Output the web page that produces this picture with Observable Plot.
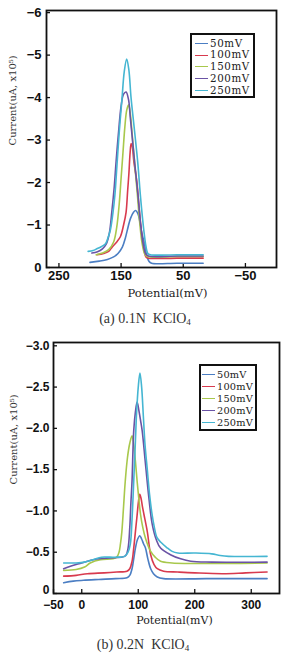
<!DOCTYPE html>
<html>
<head>
<meta charset="utf-8">
<script src="https://cdn.jsdelivr.net/npm/d3@7"></script>
<script src="https://cdn.jsdelivr.net/npm/@observablehq/plot@0.6"></script>
<style>
  html, body { margin: 0; padding: 0; background: #fff; }
  body { width: 281px; height: 653px; position: relative; overflow: hidden; }
  .panel { position: absolute; left: 0; }
  .caption { position: absolute; left: 0; text-align: center; font-family: "Liberation Serif", serif; font-size: 14px; color: #333; white-space: pre; }
  .caption sub { font-size: 9px; vertical-align: -2px; line-height: 0; }
  .legend { position: absolute; border: 2px solid #111; box-sizing: border-box; background: #fff; font-family: "DejaVu Serif", serif; color: #222; }
  .legend .row { display: flex; align-items: center; white-space: nowrap; }
  .legend .swatch { display: inline-block; width: 13px; height: 0; border-top: 1.5px solid; margin-right: 2px; flex: none; }
</style>
</head>
<body>
<div id="panelA" class="panel" style="top:0"></div>
<div id="panelB" class="panel" style="top:330px"></div>
<div class="caption" style="top:311px;width:290px">(a) 0.1N  KClO<sub>4</sub></div>
<div class="caption" style="top:637px;width:286px">(b) 0.2N  KClO<sub>4</sub></div>
<script>
// Scan rates and their line colours
const scanRates = ["50mV", "100mV", "150mV", "200mV", "250mV"];
const colors = ["#4b7ec3", "#d83a4e", "#a8c84c", "#6a53a5", "#45b6d2"];

// (a) 0.1N KClO4 — [potential (mV), current (uA, x10^5)]
const a50 = [[200,-0.12],[185,-0.15],[172,-0.19],[162,-0.25],[155,-0.33],[148,-0.48],[143,-0.7],[140,-0.88],[135,-1.15],[130,-1.3],[126.5,-1.34],[123,-1.27],[120,-1.1],[116.5,-0.8],[113,-0.6],[109,-0.3],[105,-0.14],[101,-0.1],[60,-0.1],[18,-0.1]];
const a100 = [[189,-0.3],[178,-0.33],[170,-0.38],[164.5,-0.48],[157,-0.6],[151,-0.73],[146,-1.0],[142,-1.3],[139.5,-1.8],[137.5,-2.2],[135.5,-2.7],[133.8,-2.92],[132,-2.85],[129.5,-2.5],[125,-2.05],[121,-1.4],[117,-0.8],[113,-0.4],[110,-0.25],[106,-0.22],[60,-0.22],[18,-0.22]];
const a150 = [[190,-0.3],[180,-0.34],[170,-0.42],[162,-0.6],[157,-0.95],[153,-1.5],[150,-2.1],[147,-2.7],[144,-3.3],[141,-3.7],[138,-3.83],[135,-3.6],[132,-3.1],[128.5,-2.5],[124,-1.75],[120,-1.05],[116,-0.55],[112,-0.32],[108,-0.26],[60,-0.26],[18,-0.26]];
const a200 = [[197,-0.34],[188,-0.37],[180,-0.44],[174,-0.55],[169,-0.8],[165,-1.3],[161,-1.9],[158,-2.5],[154,-3.2],[150,-3.8],[146,-4.08],[142,-4.13],[138,-3.95],[135,-3.5],[131,-2.9],[127,-2.3],[122.5,-1.65],[118.5,-1.0],[114.5,-0.55],[110.5,-0.32],[106,-0.27],[60,-0.27],[18,-0.27]];
const a250 = [[203,-0.38],[195,-0.4],[189,-0.44],[182,-0.49],[175,-0.56],[170,-0.75],[167,-0.9],[163,-1.3],[160,-1.7],[156.5,-2.44],[152.8,-3.22],[148.4,-4.0],[145,-4.6],[141,-4.91],[137.5,-4.65],[134,-4.0],[128.4,-3.22],[123,-2.44],[118.7,-1.65],[113.4,-0.87],[110,-0.5],[107,-0.33],[103,-0.3],[60,-0.3],[18,-0.3]];

// (b) 0.2N KClO4 — [potential (mV), current (uA, x10^5)]
const b50 = [[-32,-0.13],[-15,-0.15],[3,-0.16],[30,-0.17],[60,-0.18],[80,-0.19],[85,-0.22],[89,-0.3],[92,-0.42],[95,-0.55],[99,-0.66],[102.7,-0.7],[106,-0.66],[109.5,-0.6],[112.8,-0.55],[117,-0.42],[122,-0.3],[127,-0.24],[133.7,-0.2],[145,-0.18],[220,-0.18],[328,-0.18]];
const b100 = [[-32,-0.21],[-10,-0.22],[10,-0.24],[40,-0.25],[62,-0.26],[80,-0.27],[85,-0.3],[89,-0.39],[92,-0.55],[95,-0.75],[98,-0.95],[100.5,-1.12],[102.7,-1.2],[105,-1.15],[107.5,-1.05],[110,-0.96],[116,-0.75],[122,-0.47],[128,-0.35],[133.7,-0.3],[145,-0.27],[170,-0.26],[200,-0.25],[250,-0.24],[290,-0.25],[328,-0.26]];
const b150 = [[-32,-0.28],[-10,-0.29],[5,-0.32],[15,-0.37],[33,-0.41],[55,-0.42],[62,-0.44],[66,-0.5],[68.5,-0.6],[71,-0.75],[74,-1.05],[77,-1.36],[81,-1.65],[85,-1.82],[89,-1.91],[92,-1.8],[95,-1.6],[98,-1.36],[101,-1.15],[104,-0.96],[108,-0.8],[112.8,-0.67],[122,-0.51],[130,-0.44],[139.5,-0.39],[160,-0.37],[328,-0.37]];
const b200 = [[-32,-0.3],[-20,-0.33],[-5,-0.36],[10,-0.39],[30,-0.42],[50,-0.43],[70,-0.44],[78,-0.46],[82,-0.55],[85,-0.8],[87,-1.1],[89,-1.36],[92,-1.97],[95,-2.2],[98,-2.32],[101,-2.22],[104,-2.1],[107,-1.97],[112.8,-1.57],[118.8,-1.16],[124.7,-0.84],[132,-0.65],[139.5,-0.55],[157,-0.47],[175,-0.42],[193,-0.39],[230,-0.38],[328,-0.38]];
const b250 = [[-32,-0.37],[-10,-0.37],[5,-0.38],[20,-0.41],[35,-0.44],[50,-0.44],[65,-0.44],[76,-0.45],[82,-0.5],[86,-0.6],[89,-0.9],[92,-1.36],[95,-1.85],[97,-2.18],[100,-2.5],[103,-2.67],[106,-2.5],[109,-2.15],[112,-1.8],[116,-1.5],[120,-1.2],[124,-0.98],[128,-0.82],[133,-0.68],[140,-0.62],[150,-0.56],[160,-0.51],[170,-0.49],[200,-0.49],[230,-0.48],[245,-0.46],[260,-0.45],[328,-0.45]];

// Axis ticks
const xTicksA = [250, 150, 50, -50];
const yTicksA = [0, -1, -2, -3, -4, -5, -6];
const xTicksB = [-50, 0, 100, 200, 300];
const yTicksB = [0, -0.5, -1, -1.5, -2, -2.5, -3];

const xTitle = "Potential(mV)";
const yTitle = "Current(uA, x10\u2075)";

const signed = (s) => s.replace("-", "\u2212");
const fmtInt = (d) => signed(String(d));
const fmtOne = (d) => d === 0 ? "0" : signed(d.toFixed(1));

function rows(series) {
  return series.flatMap((pts, i) => pts.map(([x, y]) => ({x, y, s: scanRates[i]})));
}

function chart(o) {
  const W = 281;
  const fw = W - o.ml - o.mr;
  const fh = o.height - o.mt - o.mb;
  const yText = {anchor: "left", tickSize: 0, tickPadding: o.yPad, fontSize: o.tickFont, fontWeight: "bold", tickFormat: o.yFmt, label: null};
  const svg = Plot.plot({
    width: W,
    height: o.height,
    marginLeft: o.ml, marginRight: o.mr, marginTop: o.mt, marginBottom: o.mb,
    style: {fontFamily: "Liberation Sans, Arial, sans-serif", color: "#111", background: "#fff", overflow: "visible"},
    x: {domain: o.xDomain, axis: null},
    y: {domain: o.yDomain, axis: null},
    color: {domain: scanRates, range: colors},
    marks: [
      Plot.axisX(o.xTicks, {anchor: "bottom", tickSize: 0, tickPadding: o.xPad, fontSize: o.tickFont, fontWeight: "bold", tickFormat: o.xFmt, label: null}),
      // the zero label sits a little above the corner so it clears the x tick labels
      Plot.axisY(o.yTicks.filter((d) => d !== 0), yText),
      Plot.axisY(o.yTicks.filter((d) => d === 0), {...yText, dy: o.zeroDy}),
      Plot.tickX(o.xTicks, {x: (d) => d, insetTop: fh - 4, stroke: "#111", strokeWidth: 1.3}),
      Plot.tickY(o.yTicks, {y: (d) => d, insetRight: fw - 4, stroke: "#111", strokeWidth: 1.3}),
      Plot.line(o.data, {x: "x", y: "y", z: "s", stroke: "s", strokeWidth: 1.6, curve: "catmull-rom"}),
      Plot.frame({stroke: "#111", strokeWidth: 1.8}),
      Plot.text([xTitle], {text: (d) => d, frameAnchor: "bottom", dx: o.xlDx, dy: o.xlDy, fontFamily: "DejaVu Serif, serif", fontSize: o.xlFont, fill: "#222", ariaLabel: "x-title"}),
      Plot.text([yTitle], {text: (d) => d, frameAnchor: "left", rotate: -90, dx: o.ylDx, dy: o.ylDy, fontFamily: "DejaVu Serif, serif", fontSize: 10, fill: "#333", ariaLabel: "y-title"})
    ]
  });
  const xt = svg.querySelector('g[aria-label="x-title"] text');
  if (xt) xt.style.letterSpacing = o.xlSpacing;
  return svg;
}

function legend(parent, o) {
  const box = document.createElement("div");
  box.className = "legend";
  Object.assign(box.style, {left: o.left + "px", top: o.top + "px", width: o.width + "px", height: o.height + "px", paddingTop: o.padTop + "px", paddingLeft: o.padLeft + "px", fontSize: o.font + "px", lineHeight: o.rowH + "px", letterSpacing: o.spacing + "px"});
  scanRates.forEach((name, i) => {
    const row = document.createElement("div");
    row.className = "row";
    row.style.height = o.rowH + "px";
    const sw = document.createElement("span");
    sw.className = "swatch";
    sw.style.borderTopColor = colors[i];
    row.appendChild(sw);
    row.appendChild(document.createTextNode(name));
    box.appendChild(row);
  });
  parent.appendChild(box);
}

document.getElementById("panelA").appendChild(chart({
  data: rows([a50, a100, a150, a200, a250]),
  height: 300, ml: 46, mr: 5, mt: 10, mb: 33,
  xDomain: [270, -100], yDomain: [0, -6.05],
  xTicks: xTicksA, yTicks: yTicksA, xFmt: fmtInt, yFmt: fmtInt,
  tickFont: 13, xPad: 3, yPad: 5, zeroDy: 0,
  xlDx: 6, xlDy: 29, xlFont: 11.5, xlSpacing: "1.6px",
  ylDx: -34, ylDy: 6.5
}));

document.getElementById("panelB").appendChild(chart({
  data: rows([b50, b100, b150, b200, b250]),
  height: 300, ml: 53, mr: 2, mt: 12, mb: 37,
  xDomain: [-50, 350], yDomain: [0, -3.04],
  xTicks: xTicksB, yTicks: yTicksB, xFmt: fmtInt, yFmt: fmtOne,
  tickFont: 12, xPad: 6.5, yPad: 4, zeroDy: -3.5,
  xlDx: 8, xlDy: 30, xlFont: 11, xlSpacing: "1.3px",
  ylDx: -40, ylDy: 16.5
}));

legend(document.body, {left: 190, top: 33, width: 65, height: 65, padTop: 2.5, padLeft: 3, rowH: 11.8, font: 10.3, spacing: 0.6});
legend(document.body, {left: 199, top: 364, width: 58, height: 67, padTop: 2.5, padLeft: 1, rowH: 12, font: 9.8, spacing: 0.2});
</script>
</body>
</html>
